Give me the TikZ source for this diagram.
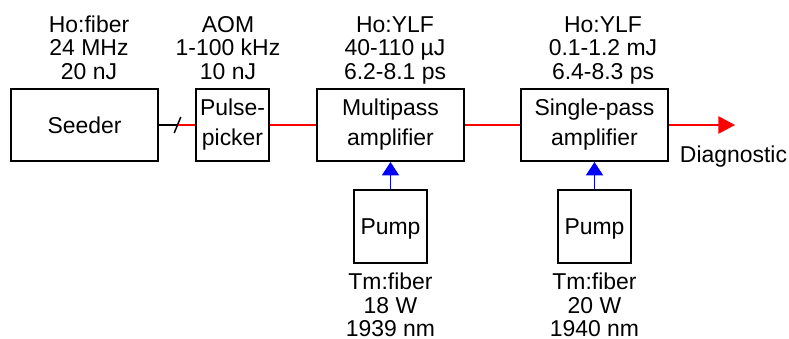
\documentclass[tikz,border=0pt]{standalone}
\usepackage{fontspec}
\setmainfont{Liberation Sans}
\usetikzlibrary{positioning,arrows.meta}
\tikzset{
  box/.style={draw=black,line width=1.5pt,align=center,inner sep=2pt,
              font=\fontsize{17.2pt}{22.5pt}\selectfont},
  lbl/.style={align=center,inner sep=0pt,anchor=base,
              font=\fontsize{17.2pt}{17.6pt}\selectfont},
  beam/.style={red,line width=1.1pt},
  arr/.style={-{Triangle[length=12.5pt,width=13pt]},red,line width=1.1pt},
  parr/.style={-{Triangle[length=10pt,width=12.75pt]},blue,line width=1.1pt}
}
\begin{document}
\begin{tikzpicture}[x=0.75pt,y=-0.75pt,
    wide/.style={box,minimum width=110.25pt,minimum height=54pt},
    sq/.style={box,minimum width=54.75pt,minimum height=54pt}]
  \useasboundingbox (0,0) rectangle (789,339);
  % main chain
  \node[wide] (seed) at (84.5,125)  {Seeder};
  \node[sq]   (pick) at (232.5,125) {Pulse-\\picker};
  \node[wide] (mp)   at (390.5,125) {Multipass\\amplifier};
  \node[wide] (sp)   at (594.5,125) {Single-pass\\amplifier};
  \node[sq,minimum height=54.75pt,text depth=0pt] (pump1) at (390.5,226.5) {Pump};
  \node[sq,minimum height=54.75pt,text depth=0pt] (pump2) at (594.5,226.5) {Pump};
  % parameters (anchored at the last line)
  \node[lbl] (seedlbl) at (89,79)   {Ho:fiber\\24 MHz\\20 nJ};
  \node[lbl] (picklbl) at (228,79)  {AOM\\1-100 kHz\\10 nJ};
  \node[lbl] (mplbl)   at (395,79)  {Ho:YLF\\40-110 µJ\\6.2-8.1 ps};
  \node[lbl] (splbl)   at (603,79)  {Ho:YLF\\0.1-1.2 mJ\\6.4-8.3 ps};
  \node[lbl] (p1lbl)   at (390.5,336.5) {Tm:fiber\\18 W\\1939 nm};
  \node[lbl] (p2lbl)   at (594.5,336.5) {Tm:fiber\\20 W\\1940 nm};
  \node[lbl] (diag)    at (733.5,162) {Diagnostic};
  % beam path
  \coordinate (cut) at (177.5,125);
  \coordinate (out) at (735,125);
  \draw[line width=1.1pt] (seed) -- (cut);
  \draw[line width=1.1pt] ([shift={(-3.3,8)}]cut) -- ([shift={(3.3,-8)}]cut);
  \draw[beam] (cut) -- (pick);
  \draw[beam] (pick) -- (mp);
  \draw[beam] (mp) -- (sp);
  \draw[arr] (sp) -- (out);
  \draw[parr] (pump1) -- (mp);
  \draw[parr] (pump2) -- (sp);
\end{tikzpicture}
\end{document}
